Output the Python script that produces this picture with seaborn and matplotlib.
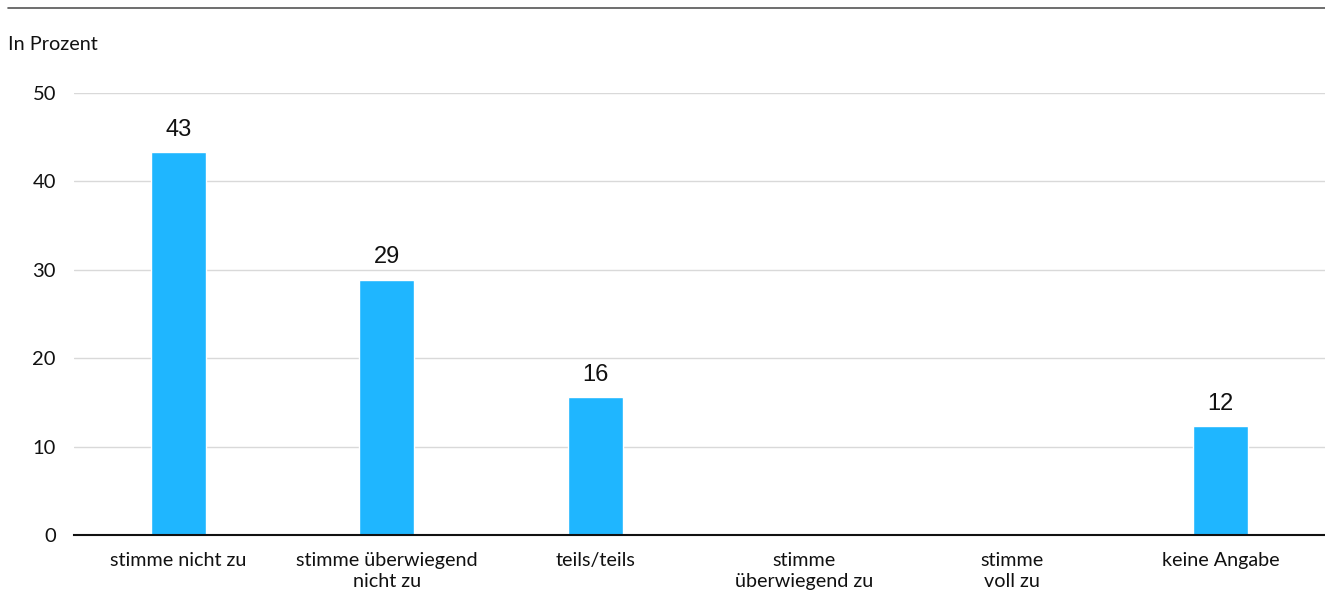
import matplotlib
matplotlib.use('Agg')
import matplotlib.pyplot as plt
import seaborn as sns
import pandas as pd

# data
categories = ['stimme nicht zu', 'stimme überwiegend\nnicht zu', 'teils/teils',
              'stimme\nüberwiegend zu', 'stimme\nvoll zu', 'keine Angabe']
values = [43.3, 28.9, 15.6, 0, 0, 12.3]
labels = ['43', '29', '16', '', '', '12']
y_ticks = [0, 10, 20, 30, 40, 50]

bar_color = '#1fb6ff'

sns.set_theme(style='white')
plt.rcParams['font.family'] = ['Lato', 'DejaVu Sans']

df = pd.DataFrame({'cat': categories, 'val': values})

fig = plt.figure(figsize=(13.25, 6.06), dpi=100)
ax = fig.add_axes([74 / 1325, 0.1172, 1 - 74 / 1325, 0.7293])

sns.barplot(data=df, x='cat', y='val', color=bar_color, width=0.265,
            saturation=1, ax=ax)

for i, (v, lab) in enumerate(zip(values, labels)):
    if lab:
        ax.text(i, v + 1.3, lab, ha='center', va='bottom', fontsize=17,
                color='#111111', family=['Liberation Sans', 'DejaVu Sans'])

ax.set_xlim(-0.5, 5.5)
ax.set_ylim(0, 50)
ax.set_yticks(y_ticks)
ax.set_yticklabels([str(t) for t in y_ticks], fontsize=14.5, color='#111111')
ax.tick_params(axis='y', length=0, pad=13)
ax.tick_params(axis='x', length=0, pad=12, labelsize=14.2, labelcolor='#111111')
for t in ax.get_xticklabels():
    t.set_linespacing(1.3)
ax.set_xlabel('')
ax.set_ylabel('')
ax.grid(axis='y', color='#d9d9d9', linewidth=1)
ax.set_axisbelow(True)
for s in ['top', 'right', 'left']:
    ax.spines[s].set_visible(False)
ax.spines['bottom'].set_color('#111111')
ax.spines['bottom'].set_linewidth(1.5)

fig.text(8 / 1325, 1 - 44 / 606, 'In Prozent', fontsize=14.3, color='#111111',
         ha='left', va='center')
fig.add_artist(plt.Line2D([8 / 1325, 1.0], [1 - 8 / 606, 1 - 8 / 606],
                          color='#555555', linewidth=1.2))

fig.savefig('out.png', dpi=100)
